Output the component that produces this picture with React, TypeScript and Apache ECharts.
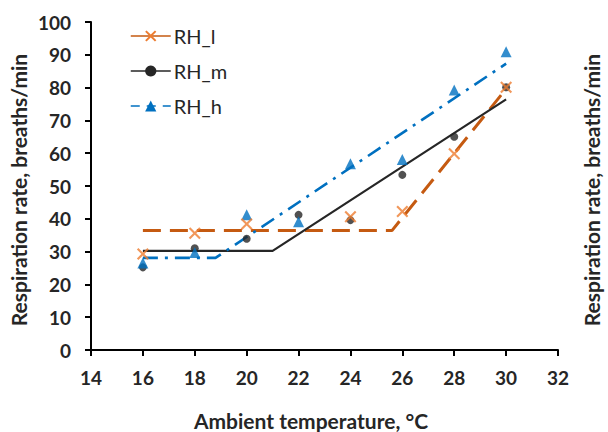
import React, { useEffect, useRef } from "react";
import * as echarts from "echarts";

const tempsL = [16, 18, 20, 24, 26, 28, 30];
const rhL = [29.3, 35.6, 38.4, 40.6, 42.2, 59.8, 80.1];
const temps = [16, 18, 20, 22, 24, 26, 28, 30];
const rhM = [25.2, 31.0, 33.9, 41.2, 39.6, 53.4, 65.0, 80.1];
const rhH = [26.5, 29.7, 41.2, 39.1, 56.8, 58.1, 79.3, 90.9];

const fitLx = [16, 25.6, 30];
const fitLy = [36.4, 36.4, 79.6];
const fitMx = [16, 21, 30];
const fitMy = [30.2, 30.2, 76.4];
const fitHx = [16, 18.8, 30];
const fitHy = [28.1, 28.1, 87.3];

const seriesNames = ["RH_l", "RH_m", "RH_h"];

const xTitle = "Ambient temperature, °C";
const yTitle = "Respiration rate, breaths/min";

const X_SYMBOL =
  "path://M0,1.5L1.5,0L6,4.5L10.5,0L12,1.5L7.5,6L12,10.5L10.5,12L6,7.5L1.5,12L0,10.5L4.5,6Z";

const pair = (xs: number[], ys: number[]) => xs.map((x, i) => [x, ys[i]]);

const FONT = "Lato, 'Open Sans', sans-serif";
const ORANGE_LINE = "#C55A11";
const ORANGE_MARK = "#ED7D31";
const BLACK = "#262626";
const BLUE = "#0070C0";

export default function App() {
  const ref = useRef<HTMLDivElement>(null);
  useEffect(() => {
    if (!ref.current) return;
    const chart = echarts.init(ref.current, undefined, { renderer: "svg" });
    chart.setOption({
      animation: false,
      backgroundColor: "#ffffff",
      grid: { left: 91, right: 50, top: 22, bottom: 82, containLabel: false },
      legend: {
        orient: "vertical",
        left: 125,
        top: 21,
        itemWidth: 40,
        itemHeight: 14,
        itemGap: 15,
        textStyle: { fontFamily: FONT, fontSize: 20, lineHeight: 14, color: BLACK, padding: [0, 0, 0, -2] },
        data: [
          { name: seriesNames[0], lineStyle: { type: "solid", width: 1.5, color: ORANGE_LINE }, itemStyle: { color: ORANGE_MARK } },
          { name: seriesNames[1], lineStyle: { type: "solid", width: 1.5, color: BLACK }, itemStyle: { color: BLACK } },
          { name: seriesNames[2], lineStyle: { type: [9, 7], width: 1.5, color: BLUE }, itemStyle: { color: BLUE } },
        ],
      },
      xAxis: {
        type: "value",
        min: 14,
        max: 32,
        interval: 2,
        splitLine: { show: false },
        axisLine: { show: true, onZero: false, lineStyle: { color: "#000", width: 2 } },
        axisTick: { show: true, length: 6, inside: false, lineStyle: { color: "#000", width: 2 } },
        axisLabel: { margin: 18, fontFamily: FONT, fontSize: 19, fontWeight: "bold", color: BLACK },
      },
      yAxis: {
        type: "value",
        min: 0,
        max: 100,
        interval: 10,
        splitLine: { show: false },
        axisLine: { show: true, lineStyle: { color: "#000", width: 2 } },
        axisTick: { show: true, length: 6, inside: false, lineStyle: { color: "#000", width: 2 } },
        axisLabel: { margin: 20, fontFamily: FONT, fontSize: 19, fontWeight: "bold", color: BLACK },
      },
      graphic: [
        {
          type: "text",
          x: 311,
          y: 420,
          style: {
            text: xTitle,
            font: `bold 21px ${FONT}`,
            fill: BLACK,
            textAlign: "center",
            textVerticalAlign: "middle",
          },
        },
        {
          type: "text",
          x: 18,
          y: 190,
          rotation: Math.PI / 2,
          style: {
            text: yTitle,
            font: `bold 21px ${FONT}`,
            fill: BLACK,
            textAlign: "center",
            textVerticalAlign: "middle",
          },
        },
        {
          type: "text",
          x: 591,
          y: 190,
          rotation: Math.PI / 2,
          style: {
            text: yTitle,
            font: `bold 21px ${FONT}`,
            fill: BLACK,
            textAlign: "center",
            textVerticalAlign: "middle",
          },
        },
      ],
      series: [
        {
          name: seriesNames[0],
          type: "line",
          data: pair(fitLx, fitLy),
          symbol: X_SYMBOL,
          showSymbol: false,
          itemStyle: { color: ORANGE_MARK },
          lineStyle: { color: ORANGE_LINE, width: 3, type: [18, 9] },
          z: 2,
        },
        {
          name: seriesNames[1],
          type: "line",
          data: pair(fitMx, fitMy),
          symbol: "circle",
          showSymbol: false,
          itemStyle: { color: BLACK },
          lineStyle: { color: BLACK, width: 2.2, type: "solid" },
          z: 2,
        },
        {
          name: seriesNames[2],
          type: "line",
          data: pair(fitHx, fitHy),
          symbol: "triangle",
          showSymbol: false,
          itemStyle: { color: BLUE },
          lineStyle: { color: BLUE, width: 2.6, type: [15, 7, 3, 7] },
          z: 2,
        },
        {
          name: "pts_m",
          type: "scatter",
          data: pair(temps, rhM),
          symbol: "circle",
          symbolSize: 8,
          itemStyle: { color: BLACK },
          z: 3,
        },
        {
          name: "pts_h",
          type: "scatter",
          data: pair(temps, rhH),
          symbol: "triangle",
          symbolSize: 11,
          itemStyle: { color: BLUE },
          z: 4,
        },
        {
          name: "pts_l",
          type: "scatter",
          data: pair(tempsL, rhL),
          symbol: X_SYMBOL,
          symbolSize: 12,
          itemStyle: { color: ORANGE_MARK },
          z: 5,
        },
      ],
    });
    return () => chart.dispose();
  }, []);
  return (
    <div
      ref={ref}
      style={{ position: "fixed", left: 0, top: 0, width: 608, height: 432 }}
    />
  );
}
